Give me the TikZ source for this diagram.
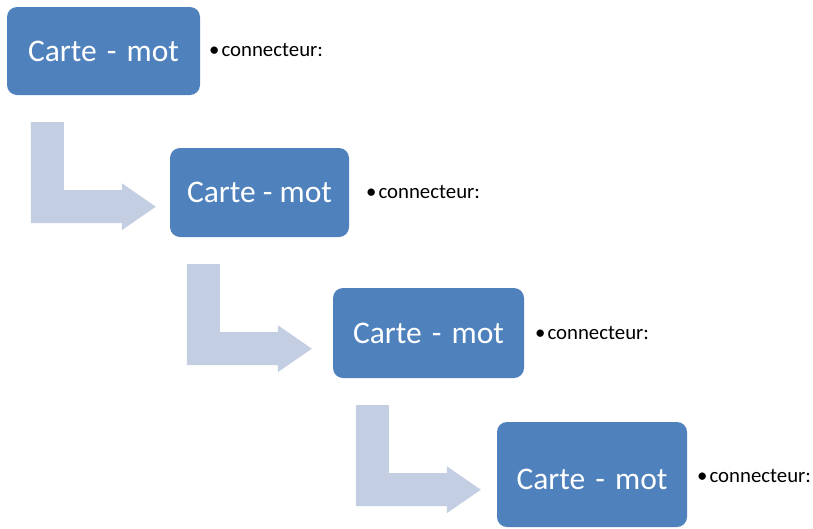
\documentclass[tikz,border=0pt]{standalone}
\usepackage{fontspec}
\setmainfont{Carlito}
\usetikzlibrary{calc}
\definecolor{cartebleu}{RGB}{79,129,189}
\definecolor{coudebleu}{RGB}{196,206,226}
\tikzset{
	carte/.style={fill=cartebleu, rounded corners=10pt, inner sep=0pt, text=white, font=\fontsize{31.5}{36}\selectfont},
	connect/.style={anchor=base west, inner sep=0pt, font=\fontsize{20.8}{24}\selectfont},
	coude/.style={fill=coudebleu}
}
\newcommand{\tiret}{\kern3pt-\kern3pt}

\begin{document}
\begin{tikzpicture}[x=1pt, y=-1pt]
		\useasboundingbox (0,0) rectangle (813,528);
		
		% cartes
		\node[carte, minimum width=193pt, minimum height=88pt] (c1) at (103.5,51) {Carte \tiret{} mot};
		\node[carte, minimum width=179pt, minimum height=89pt] (c2) at (259.5,192.5) {Carte - mot};
		\node[carte, minimum width=191pt, minimum height=90pt] (c3) at (428.5,333) {Carte \tiret{} mot};
		\node[carte, minimum width=190pt, minimum height=105pt] (c4) at (592,474.5) {\raisebox{-15pt}[0pt][0pt]{Carte \tiret{} mot}};
		
		% coudes
		\foreach \i/\dx in {1/24,2/17,3/23}
			\fill[coude] ($(c\i.south west)+(\dx,27)$) -- ++(33,0) -- ++(0,68) -- ++(58,0) -- ++(0,-7)
				-- ++(34,23.5) -- ++(-34,23.5) -- ++(0,-7) -- ++(-91,0) -- cycle;
		
		% connecteurs
		\node[connect] (n1) at (209,56) {•\hspace{2pt}connecteur:};
		\node[connect] (n2) at (366,198) {•\hspace{2pt}connecteur:};
		\node[connect] (n3) at (535,339) {•\hspace{2pt}connecteur:};
		\node[connect] (n4) at (697,482) {•\hspace{2pt}connecteur:};
	\end{tikzpicture}
\end{document}
